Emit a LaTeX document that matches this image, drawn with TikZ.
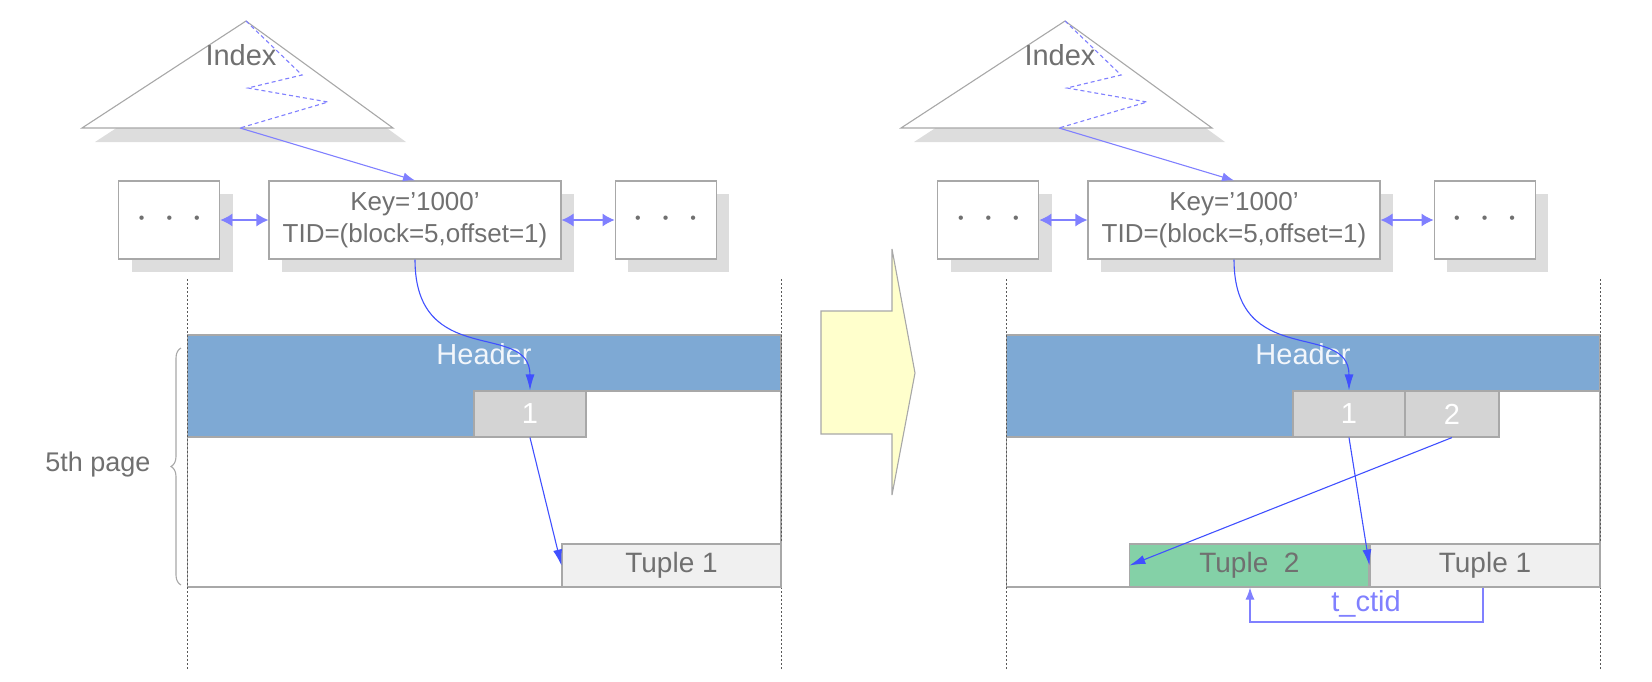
\documentclass[tikz,border=0pt]{standalone}
\usepackage{fontspec}
\setmainfont{Liberation Sans}
\usetikzlibrary{arrows.meta,calc,decorations.pathreplacing,positioning,shadows}
\definecolor{ink}{HTML}{707070}
\definecolor{edge}{HTML}{A8A8A8}
\definecolor{shade}{HTML}{DDDDDD}
\definecolor{hdrblue}{HTML}{7EA9D4}
\definecolor{slotgray}{HTML}{D4D4D4}
\definecolor{tuplegray}{HTML}{F0F0F0}
\definecolor{tuplegreen}{HTML}{84D1A7}
\definecolor{linkblue}{HTML}{4050FF}
\definecolor{softblue}{HTML}{8080FF}
\definecolor{pale}{HTML}{FFFFCC}
\newcommand{\fs}[1]{\fontsize{#1}{#1}\selectfont}
\newcommand{\moredots}{{\fs{16}\textbullet\hspace{22pt}\textbullet\hspace{22pt}\textbullet}}

\begin{document}
\begin{tikzpicture}[x=1pt,y=-1pt,line width=1.1pt,
  every node/.style={font=\fs{26},text=ink,inner sep=0pt},
  entry/.style={draw=edge,fill=white,minimum height=78pt,align=center,font=\fontsize{26}{32}\selectfont,
    drop shadow={shadow xshift=13pt,shadow yshift=-13pt,fill=shade,opacity=1}},
  slot/.style={draw=edge,fill=slotgray,minimum width=112pt,minimum height=46pt,text=white,font=\fs{29}},
  tuple/.style={draw=edge,fill=tuplegray,minimum height=43pt,font=\fs{28}},
  link/.style={-{Latex[length=16pt,width=9pt]},draw=linkblue},
  sib/.style={{Latex[length=12pt,width=13pt]}-{Latex[length=12pt,width=13pt]},draw=softblue},
  guide/.style={draw=black!65,line width=0.9pt,dash pattern=on 2pt off 2pt}]
\useasboundingbox (0,0) rectangle (1652,681);

\foreach \p/\dx in {L/0,R/819}{
\begin{scope}[xshift=\dx pt]
  % index tree
  \draw[edge,fill=white,drop shadow={shadow xshift=13pt,shadow yshift=-14pt,fill=shade,opacity=1}]
    (82,128) -- (246,21) -- (393,128) -- cycle;
  \node[font=\fs{29}] (idx\p) at (241,55) {Index};
  \draw[softblue,dash pattern=on 4pt off 3pt] (246,21) -- (302,75) -- (248,88) -- (328,102) -- (240,128);
  \coordinate (leaf\p) at (240,128);
  % leaf entries
  \node[entry,minimum width=292pt] (key\p) at (415,220) {Key=’1000’\\TID=(block=5,offset=1)};
  \node[entry,minimum width=101pt,left=48pt of key\p] (prev\p) {\moredots};
  \node[entry,minimum width=101pt,right=53pt of key\p] (next\p) {\moredots};
  \draw[sib] (prev\p) -- (key\p);
  \draw[sib] (key\p) -- (next\p);
  \draw[-{Latex[length=12pt,width=9pt]},softblue] (leaf\p) -- (key\p.north);
  % heap page
  \draw[edge] (187.5,335) rectangle (781,587);
  \draw[edge,fill=hdrblue] (187.5,335) -- (781,335) -- (781,391) -- (474,391) -- (474,437) -- (187.5,437) -- cycle;
  \draw[guide] (187.5,279) -- (187.5,669);
  \draw[guide] (781,279) -- (781,669);
  \node[text=white!90!hdrblue,font=\fs{29}] (hdr\p) at (484,354) {Header};
  \node[slot] (one\p) at (530,414) {1};
  \draw[link] (key\p.south) .. controls (415,370) and (530,320) .. (one\p.north);
\end{scope}
}

% before
\node[tuple,minimum width=219pt] (tupL) at (671.5,565.5) {Tuple 1};
\draw[link] (oneL.south) -- (tupL.west);
\draw[edge,decorate,decoration={brace,amplitude=10pt}] (181,585) -- (181,348);
\node[font=\fs{27}] (pageno) at (98,465) {5th page};

% update
\draw[edge,fill=pale] (821,311) -- (892,311) -- (892,249) -- (915,373) -- (892,495) -- (892,434) -- (821,434) -- cycle;

% after
\node[slot,minimum width=94pt] (twoR) at (1452,414) {2};
\node[tuple,minimum width=230pt] (tupR) at (1485,565.5) {Tuple 1};
\node[tuple,fill=tuplegreen,minimum width=239pt,left=0pt of tupR] (newR) {Tuple\ \ 2};
\draw[link] (oneR.south) -- (tupR.west);
\draw[link] (twoR.south) -- (newR.west);
\coordinate (ct1) at (1483,622);
\coordinate (ct2) at (1250,622);
\draw[-{Latex[length=12pt,width=9pt]},softblue] (tupR.south -| ct1) -- (ct1) -- (ct2) -- (newR.south -| ct2);
\node[text=softblue,font=\fs{29}] (ctid) at (1366,604) {t\_ctid};
\end{tikzpicture}
\end{document}
